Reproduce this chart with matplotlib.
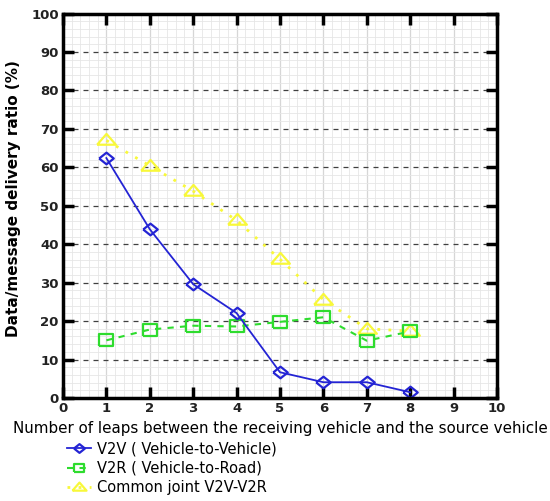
import matplotlib
matplotlib.use("Agg")
import matplotlib.pyplot as plt
import numpy as np

hops = [1, 2, 3, 4, 5, 6, 7, 8]
v2v = [62.4, 43.9, 29.6, 22.1, 6.7, 4.1, 4.1, 1.5]
v2r = [15.0, 17.8, 18.8, 18.6, 19.8, 21.0, 14.9, 17.3]
joint = [67.0, 60.4, 53.8, 46.2, 36.1, 25.6, 18.0, 17.4]
labels = ["V2V ( Vehicle-to-Vehicle)", "V2R ( Vehicle-to-Road)", "Common joint V2V-V2R"]
xticks = list(range(0, 11))
yticks = list(range(0, 101, 10))

plt.rcParams['font.family'] = ['DejaVu Sans']
fig = plt.figure(figsize=(5.5, 5.01), dpi=100)
ax = fig.add_axes([0.1145, 0.2056, 0.7891, 0.7674])

ax.set_xlim(0, 10)
ax.set_ylim(0, 100)

# background grid (drawn low so ticks stay on top)
for x in np.arange(0.2, 10, 0.2):
    major = abs(x - round(x)) < 1e-6
    ax.axvline(x, color='#d6d6d6' if major else '#e6e6e6', linewidth=0.9 if major else 0.6, zorder=0.5)
for y in np.arange(2, 100, 2):
    if y % 10 != 0:
        ax.axhline(y, color='#e6e6e6', linewidth=0.6, zorder=0.5)
for y in yticks[1:-1]:
    ax.axhline(y, color='#404040', linestyle=(0, (4, 4)), linewidth=0.9, zorder=1)

diamond = [(-1, 0), (0, 0.8), (1, 0), (0, -0.8), (-1, 0)]
square = [(-1, -0.8), (1, -0.8), (1, 0.8), (-1, 0.8), (-1, -0.8)]
triangle = [(-1, -0.45), (1, -0.45), (0, 0.7), (-1, -0.45)]

blue = '#2424d4'
green = '#2edc2e'
yellow = '#f8f83a'

l1, = ax.plot(hops, v2v, color=blue, linewidth=1.3, marker=diamond, markersize=10.5,
              markerfacecolor='none', markeredgecolor=blue, markeredgewidth=1.6, zorder=4)
l2, = ax.plot(hops, v2r, color=green, linewidth=1.5, linestyle=(0, (3, 3)), marker=square, markersize=10.5,
              markerfacecolor='none', markeredgecolor=green, markeredgewidth=1.6, zorder=3)
l3, = ax.plot(hops, joint, color=yellow, linewidth=2.0, linestyle=(0, (1, 3)), marker=triangle, markersize=13.5,
              markerfacecolor='none', markeredgecolor=yellow, markeredgewidth=1.6, zorder=2)

for s in ax.spines.values():
    s.set_linewidth(2.5)
    s.set_color('black')
    s.set_zorder(5)

ax.set_xticks(xticks)
ax.set_yticks(yticks)
ax.tick_params(which='major', direction='in', length=8, width=2.5, top=True, right=True,
               labelsize=9.5, pad=3)
for t in ax.get_xticklabels() + ax.get_yticklabels():
    t.set_fontweight('bold')
    t.set_color('#222222')

ax.set_ylabel("Data/message delivery ratio (%)", fontsize=11, fontweight='bold')
ax.yaxis.set_label_coords(-0.097, 0.52)
ax.set_xlabel("Number of leaps between the receiving vehicle and the source vehicle", fontsize=10.9, labelpad=4)

leg = fig.legend([l1, l2, l3], labels, loc='upper left', bbox_to_anchor=(0.12, 0.122),
                 frameon=False, fontsize=10.5, handlelength=1.6, handletextpad=0.45,
                 labelspacing=0.3, borderaxespad=0, borderpad=0.1, markerscale=0.75)

fig.savefig("out.png", dpi=100)
